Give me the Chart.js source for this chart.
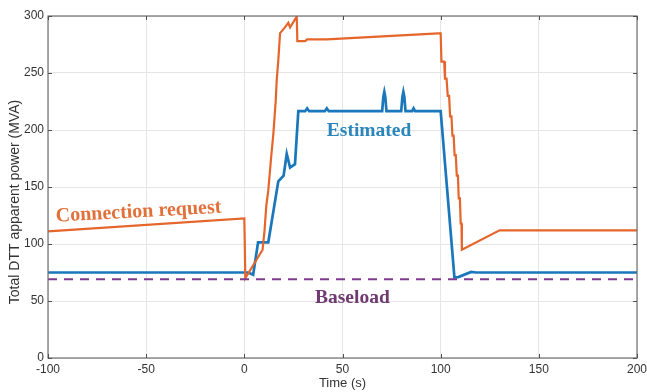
<!DOCTYPE html>
<html>
<head>
<meta charset="utf-8">
<script src="https://cdn.jsdelivr.net/npm/chart.js@4.4.1/dist/chart.umd.min.js"></script>
<style>
  html, body { margin: 0; padding: 0; background: #ffffff; }
  canvas { display: block; }
</style>
</head>
<body>
<canvas id="c" width="647" height="392"></canvas>
<script>
// ---- Data ----
const xTicks = [-100, -50, 0, 50, 100, 150, 200];
const yTicks = [0, 50, 100, 150, 200, 250, 300];

// Connection request (orange)
const requestTime = [-100, 0, 0.5, 9.3, 10.3, 11.2, 12.2, 13.6, 14.8, 16, 16.5, 17.3, 18.2, 20.7, 22.4, 23.3, 26.7, 27, 31, 32, 42, 98.8,
  100, 100.4, 101.8, 102.2, 103, 103.6, 104.3, 104.8, 105.5, 106, 106.6, 107.1, 107.7, 108.2, 108.8, 109.2, 109.8, 110.2, 110.6, 110.8, 130, 200];
const requestValue = [111, 122.5, 70, 95, 112, 134, 147, 175, 197, 226, 244, 261, 285, 290, 294, 290, 299.5, 278, 278, 279.5, 279.5, 284.8,
  284.8, 260, 260, 245, 245, 230, 230, 212, 212, 195, 195, 178, 178, 160, 160, 140, 140, 118, 118, 95, 112, 112];

// Estimated (blue)
const estimatedTime = [-100, 2, 4.5, 7, 12.2, 17.3, 20, 21.6, 23.3, 25.8, 27.5, 31, 32, 33, 41, 42, 43, 70.2, 70.8, 71.3, 71.8, 72.4,
  79.9, 80.5, 81, 81.5, 82.1, 85.5, 86.2, 87, 100, 107, 109, 115.5, 118, 200];
const estimatedValue = [75, 75, 73, 101.5, 101.5, 155, 160, 179, 167, 170, 216.5, 216.5, 219, 216.5, 216.5, 219, 216.5, 216.5, 229, 233.5, 229, 216.5,
  216.5, 229, 233.5, 229, 216.5, 216.5, 219, 216.5, 216.5, 70.8, 71, 75.5, 75, 75];

// Baseload (purple dashed)
const baseloadTime = [-100, 200];
const baseloadValue = [69, 69];

// Annotation texts
const labels = [
  { text: 'Connection request', x: -95.9, y: 119.6, color: '#e2703a', size: 20, rot: -3.1 },
  { text: 'Estimated', x: 42, y: 194.6, color: '#2a86bb', size: 19.5, rot: 0 },
  { text: 'Baseload', x: 36, y: 48.2, color: '#6e3a70', size: 19.5, rot: 0 }
];
const yTitle = 'Total DTT apparent power (MVA)';

const pts = (xs, ys) => xs.map((x, i) => ({ x: x, y: ys[i] }));

const boxPlugin = {
  id: 'box',
  afterDatasetsDraw(chart) {
    const { ctx, chartArea: a, scales } = chart;
    ctx.save();
    labels.forEach(l => {
      const px = scales.x.getPixelForValue(l.x);
      const py = scales.y.getPixelForValue(l.y);
      ctx.save();
      ctx.translate(px, py);
      ctx.rotate(l.rot * Math.PI / 180);
      ctx.font = 'bold ' + l.size + 'px "Liberation Serif", "DejaVu Serif", serif';
      ctx.fillStyle = l.color;
      ctx.textAlign = 'left';
      ctx.textBaseline = 'alphabetic';
      ctx.fillText(l.text, 0, 0);
      ctx.restore();
    });
    // y axis title
    ctx.save();
    ctx.translate(15, (a.top + a.bottom) / 2 + 15);
    ctx.rotate(-Math.PI / 2);
    ctx.font = '14px "Liberation Sans", Arial, sans-serif';
    ctx.fillStyle = '#333333';
    ctx.textAlign = 'center';
    ctx.textBaseline = 'middle';
    ctx.fillText(yTitle, 0, 0);
    ctx.restore();
    // box
    ctx.strokeStyle = '#707070';
    ctx.lineWidth = 1.2;
    ctx.strokeRect(a.left, a.top, a.right - a.left, a.bottom - a.top);
    ctx.lineWidth = 1;
    ctx.strokeStyle = '#505050';
    const tl = 4;
    xTicks.forEach(v => {
      const px = Math.round(scales.x.getPixelForValue(v)) + 0.5;
      ctx.beginPath();
      ctx.moveTo(px, a.bottom); ctx.lineTo(px, a.bottom - tl);
      ctx.moveTo(px, a.top); ctx.lineTo(px, a.top + tl);
      ctx.stroke();
    });
    yTicks.forEach(v => {
      const py = Math.round(scales.y.getPixelForValue(v)) + 0.5;
      ctx.beginPath();
      ctx.moveTo(a.left, py); ctx.lineTo(a.left + tl, py);
      ctx.moveTo(a.right, py); ctx.lineTo(a.right - tl, py);
      ctx.stroke();
    });
    ctx.restore();
  }
};

const tickFont = { family: '"Liberation Sans", Arial, sans-serif', size: 12 };
const xTitleFont = { family: '"Liberation Sans", Arial, sans-serif', size: 13 };

new Chart(document.getElementById('c'), {
  type: 'scatter',
  data: {
    datasets: [
      { data: pts(baseloadTime, baseloadValue), showLine: true, borderColor: '#7e3b8c', borderWidth: 2, borderDash: [9, 7], pointRadius: 0, tension: 0 },
      { data: pts(requestTime, requestValue), showLine: true, borderColor: '#e5652b', borderWidth: 2.2, pointRadius: 0, tension: 0 },
      { data: pts(estimatedTime, estimatedValue), showLine: true, borderColor: '#1a77bb', borderWidth: 2.7, pointRadius: 0, tension: 0 }
    ]
  },
  options: {
    responsive: false,
    animation: false,
    devicePixelRatio: 1,
    layout: { padding: { top: 16, right: 10, left: 0, bottom: 0 } },
    plugins: { legend: { display: false }, tooltip: { enabled: false } },
    scales: {
      x: {
        type: 'linear', min: -100, max: 200,
        afterBuildTicks: s => { s.ticks = xTicks.map(v => ({ value: v })); },
        afterFit: s => { s.height = 34; s.paddingRight = 0; s.paddingLeft = 0; },
        grid: { color: '#e6e6e6', drawTicks: false },
        border: { display: false },
        ticks: { font: tickFont, color: '#333333', padding: 4, maxRotation: 0 },
        title: { display: true, text: 'Time (s)', font: xTitleFont, color: '#333333', padding: { top: 0, bottom: 1 } }
      },
      y: {
        type: 'linear', min: 0, max: 300,
        afterBuildTicks: s => { s.ticks = yTicks.map(v => ({ value: v })); },
        afterFit: s => { s.width = 48; s.paddingTop = 0; s.paddingBottom = 0; },
        grid: { color: '#e6e6e6', drawTicks: false },
        border: { display: false },
        ticks: { font: tickFont, color: '#333333', padding: 4 },
        title: { display: false }
      }
    }
  },
  plugins: [boxPlugin]
});
</script>
</body>
</html>
